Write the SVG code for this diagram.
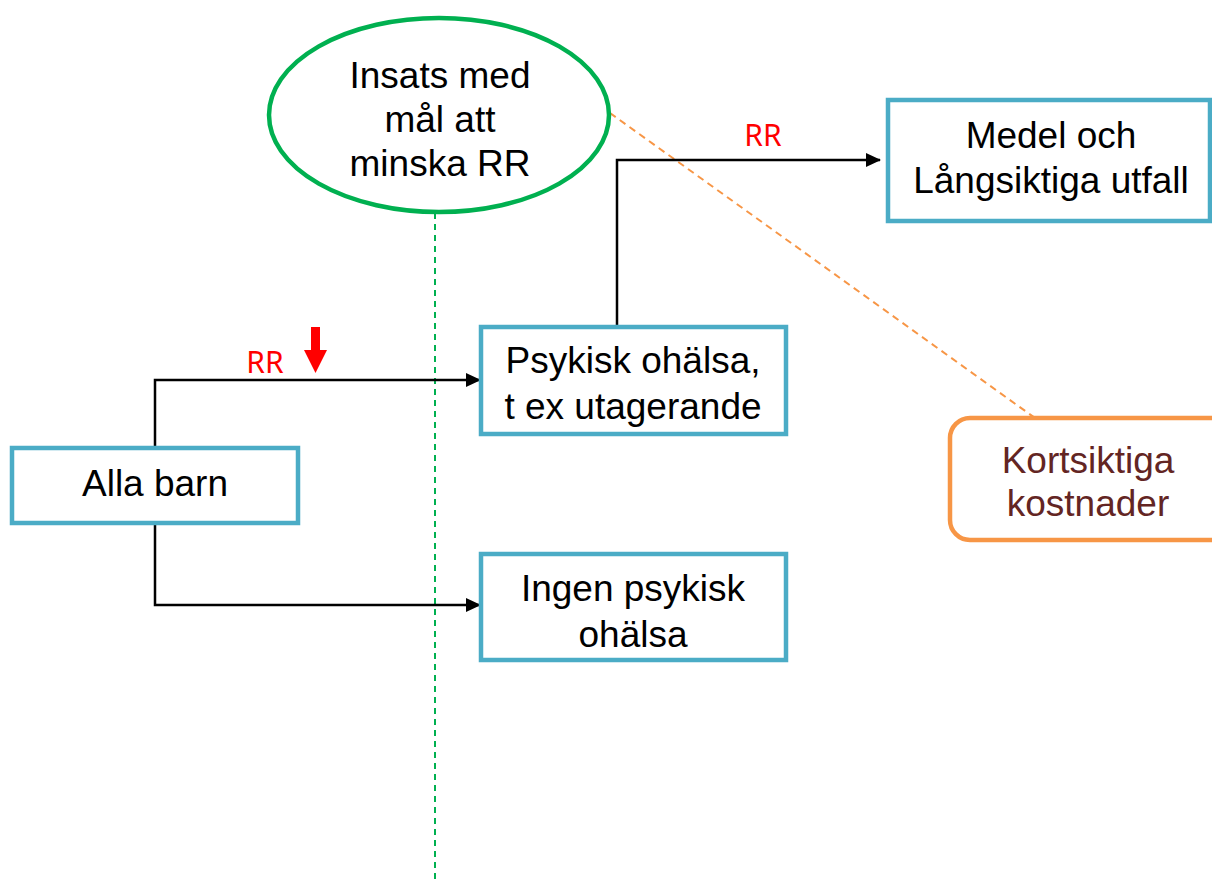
<svg xmlns="http://www.w3.org/2000/svg" width="1212" height="882" viewBox="0 0 1212 882">
<style>
.box{fill:#fff;stroke:#4BACC6;stroke-width:4.5}
.t{font-family:"Liberation Sans",Arial,sans-serif;font-size:37px;fill:#000;text-anchor:middle}
.rr{font-family:"Noto Sans","Open Sans",sans-serif;font-size:30px;fill:#FF0000;text-anchor:middle}
.c{fill:none;stroke:#000;stroke-width:2.5}
</style>
<defs>
<marker id="ah" markerWidth="15" markerHeight="14" refX="14" refY="7" orient="auto" markerUnits="userSpaceOnUse">
<path d="M0,0 L15,7 L0,14 Z" fill="#000"/>
</marker>
</defs>
<rect width="1212" height="882" fill="#fff"/>
<line x1="435" y1="213" x2="435" y2="882" stroke="#00B050" stroke-width="2" stroke-dasharray="6,5"/>
<line x1="610" y1="113" x2="1035" y2="418" stroke="#F79646" stroke-width="2" stroke-dasharray="7,5"/>
<g id="connectors">
<path class="c" d="M155,447 V380 H480" marker-end="url(#ah)"/>
<path class="c" d="M155,523 V605 H480" marker-end="url(#ah)"/>
<path class="c" d="M617,326 V160 H880" marker-end="url(#ah)"/>
<text class="rr" x="265" y="373">RR</text>
<text class="rr" x="763" y="146">RR</text>
<path d="M311,327 H320 V350 H327 L315.5,373 L304,350 H311 Z" fill="#FF0000"/>
</g>
<g id="insats">
<ellipse cx="439" cy="115" rx="170" ry="97" fill="#fff" stroke="#00B050" stroke-width="4.5"/>
<text class="t" x="440" y="88">Insats med</text>
<text class="t" x="440" y="132">mål att</text>
<text class="t" x="440" y="176">minska RR</text>
</g>
<g id="medel">
<rect class="box" x="888" y="100" width="322" height="121"/>
<text class="t" x="1051" y="148">Medel och</text>
<text class="t" x="1051" y="193">Långsiktiga utfall</text>
</g>
<g id="psykisk">
<rect class="box" x="481" y="327" width="305" height="107"/>
<text class="t" x="633" y="373">Psykisk ohälsa,</text>
<text class="t" x="633" y="419">t ex utagerande</text>
</g>
<g id="alla">
<rect class="box" x="12" y="448" width="286" height="75"/>
<text class="t" x="155" y="496">Alla barn</text>
</g>
<g id="ingen">
<rect class="box" x="481" y="554" width="305" height="106"/>
<text class="t" x="633" y="601">Ingen psykisk</text>
<text class="t" x="633" y="647">ohälsa</text>
</g>
<g id="kortsiktiga">
<rect x="950" y="418" width="290" height="122" rx="20" fill="#fff" stroke="#F79646" stroke-width="4.5"/>
<text class="t" x="1088" y="473" style="fill:#632523">Kortsiktiga</text>
<text class="t" x="1088" y="516" style="fill:#632523">kostnader</text>
</g>
</svg>
